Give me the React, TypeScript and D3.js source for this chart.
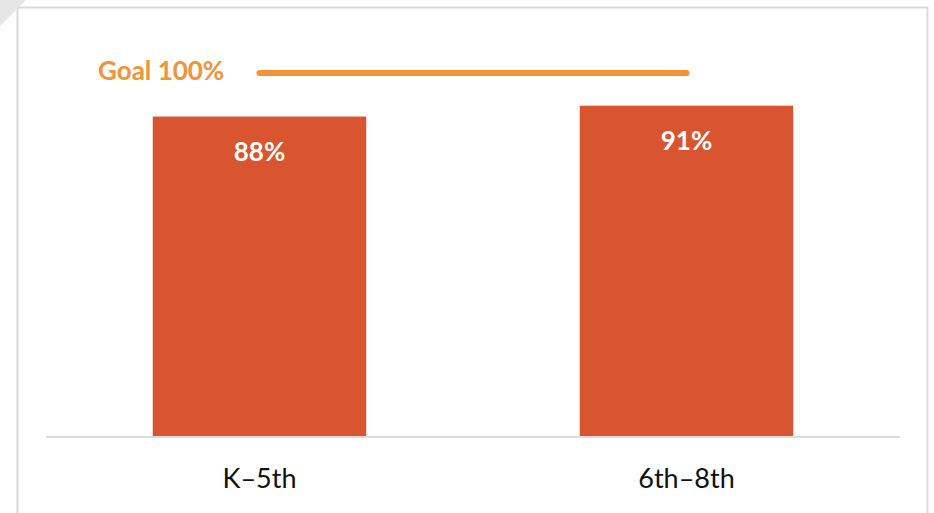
import React from "react";
import * as d3 from "d3";

const categories = ["K–5th", "6th–8th"];
const values = [88, 91];
const goalValue = 100;
const goalLabel = "Goal 100%";

const W = 934;
const H = 513;

export default function App() {
  const x = d3.scaleBand<string>().domain(categories).range([46, 900]).paddingInner(0.5).paddingOuter(0.25);
  const y = d3.scaleLinear().domain([0, 100]).range([436, 73]);
  const font = "Lato, 'Open Sans', sans-serif";
  const bw = x.bandwidth();
  const first = x(categories[0])!;
  const last = x(categories[categories.length - 1])!;
  return (
    <svg width={W} height={H} style={{ position: "absolute", left: 0, top: 0, background: "#fff" }}>
      <rect x={17.5} y={7.5} width={910} height={520} fill="#fff" stroke="#d9d9d9" strokeWidth={2} />
      <path d="M0,0 L26,0 L0,26 Z" fill="#e6e6e6" />
      {categories.map((c, i) => (
        <g key={c}>
          <rect x={x(c)} y={y(values[i])} width={bw} height={y(0) - y(values[i])} fill="#D9552F" />
          <text
            x={x(c)! + bw / 2}
            y={y(values[i]) + 44}
            textAnchor="middle"
            fill="#fff"
            fontFamily={font}
            fontWeight={700}
            fontSize={26}
          >
            {values[i]}%
          </text>
          <text x={x(c)! + bw / 2} y={488} textAnchor="middle" fill="#111" fontFamily={font} fontSize={27}>
            {c}
          </text>
        </g>
      ))}
      <line x1={46} x2={900} y1={437} y2={437} stroke="#dcdcdc" strokeWidth={2} />
      <line
        x1={first + bw / 2}
        x2={last + bw / 2}
        y1={y(goalValue)}
        y2={y(goalValue)}
        stroke="#F39237"
        strokeWidth={6}
        strokeLinecap="round"
      />
      <text x={98} y={80} fill="#F39237" fontFamily={font} fontWeight={700} fontSize={26}>
        {goalLabel}
      </text>
    </svg>
  );
}
